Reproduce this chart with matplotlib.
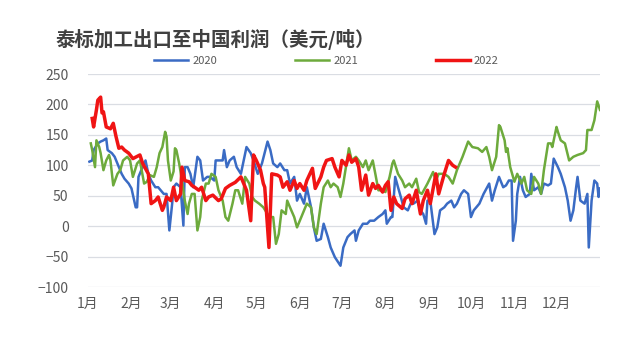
import matplotlib.pyplot as plt

plt.rcParams['font.family'] = ['Noto Sans CJK SC', 'DejaVu Sans']

# 日序（1月1日=0）与利润（美元/吨）
days_2020 = [1, 3, 4, 7, 9, 11, 13, 14, 17, 19, 22, 24, 26, 29, 31, 34, 35, 36, 38, 41,
             43, 45, 48, 50, 54, 56, 58, 60, 61, 63, 66, 68, 69, 71, 73, 75, 78, 80, 82, 85,
             87, 90, 91, 93, 96, 97, 99, 101, 104, 106, 109, 111, 113, 116, 118, 121, 124, 128, 130, 132,
             135, 137, 140, 142, 144, 147, 149, 151, 154, 156, 159, 161, 163, 166,
             168, 171, 173, 176, 180, 182, 185, 187, 190, 191, 193, 196, 199, 201, 204, 207,
             210, 212, 213, 216, 217, 219, 221, 223, 225, 228, 230, 232, 235, 237, 239, 241,
             242, 244, 247, 249, 251, 254, 256, 259, 261, 263, 266, 268, 271, 273, 275, 279,
             282, 286, 288, 290, 293, 296, 298, 300, 302, 303, 305, 306, 308, 310, 312, 315,
             316, 318, 321, 323, 325, 328, 330, 332, 335, 337, 340, 342, 344, 346, 348, 349,
             351, 354, 356, 357, 359, 361, 363, 364, 365]
vals_2020 = [106, 108, 125, 136, 139, 141, 144, 125, 120, 114, 97, 86, 78, 70, 62, 31, 31, 81, 92, 108,
             86, 75, 64, 64, 53, 53, -7, 37, 64, 70, 64, 1, 97, 97, 86, 64, 114, 108, 75, 81,
             81, 75, 108, 108, 108, 125, 97, 108, 114, 97, 86, 108, 130, 120, 108, 86, 103, 139, 125, 103,
             97, 103, 92, 92, 70, 81, 42, 53, 37, 64, 31, -2, -24, -21,
             4, -18, -35, -51, -65, -35, -18, -13, -7, -24, -7, 4, 4, 9, 9, 15, 20, 26, 4, 15,
             15, 81, 64, 48, 31, 26, 37, 37, 42, 26, 20, 4, 42, 42, -13, -2, 26, 31, 37, 42,
             31, 37, 53, 59, 53, 15, 26, 37, 53, 70, 42, 59, 81, 64, 67, 75, 75, -24, 9, 53,
             81, 59, 48, 53, 86, 59, 64, 53, 70, 67, 70, 111, 97, 86, 64, 42, 9, 26, 64, 81,
             42, 37, 53, -35, 42, 75, 70, 48, 62]

days_2021 = [2, 3, 5, 6, 8, 9, 11, 13, 15, 16, 18, 21, 23, 25, 28, 30, 32, 35, 37, 40,
             42, 44, 47, 49, 51, 53, 55, 56, 57, 59, 61, 62, 63, 65, 67, 69, 71, 72, 74, 76,
             78, 80, 81, 84, 86, 88, 91, 93, 96, 98, 100, 103, 105, 107, 110, 112, 115, 117, 119, 122,
             125, 128, 130, 132, 134, 136, 138, 141, 142, 144, 147, 149, 151, 154, 156, 159, 161, 163, 166,
             168, 171, 173, 175, 178, 180, 182, 186, 188, 191, 193, 196, 198, 200, 203, 205, 207,
             210, 212, 215, 217, 218, 221, 224, 226, 229, 231, 234, 236, 238, 242, 246, 248,
             250, 254, 257, 260, 263, 267, 271, 274, 278, 281, 284, 286, 288, 291, 293, 294,
             297, 298, 299, 301, 304, 306, 309, 311, 313, 316, 318, 321, 323, 325, 328, 330,
             331, 334, 335, 337, 340, 343, 346, 349, 353, 355, 356, 359, 361, 363, 365]
vals_2021 = [136, 125, 97, 141, 130, 120, 92, 108, 117, 108, 67, 86, 92, 108, 114, 108, 81, 103, 108, 70,
             73, 84, 81, 97, 120, 130, 155, 147, 108, 75, 90, 128, 125, 103, 75, 42, 20, 37, 53, 53,
             -7, 15, 42, 70, 70, 86, 81, 59, 42, 15, 9, 37, 59, 59, 37, 81, 70, 48, 42, 37,
             31, 20, 15, 15, -29, -13, 26, 20, 42, 31, 15, -2, 9, 26, 37, 31, -2, -13, 37,
             64, 75, 64, 70, 64, 48, 70, 128, 108, 114, 108, 97, 108, 92, 108, 84, 59,
             59, 56, 81, 103, 108, 86, 75, 64, 70, 64, 78, 56, 53, 70, 89, 75,
             86, 86, 81, 70, 92, 114, 139, 130, 128, 122, 130, 114, 92, 114, 166, 163,
             141, 122, 128, 97, 73, 86, 70, 81, 59, 53, 81, 70, 53, 92, 136, 136,
             130, 163, 155, 141, 136, 108, 114, 117, 120, 125, 158, 158, 174, 205, 191]

days_2022 = [3, 4, 6, 7, 9, 10, 11, 13, 16, 18, 19, 20, 22, 24, 26, 29, 32, 37, 39, 43,
             45, 48, 50, 53, 54, 56, 59, 61, 63, 66, 67, 69, 72, 74, 76, 79, 81, 84, 86, 89,
             93, 95, 98, 101, 105, 109, 111, 113, 116, 118, 120, 123, 125, 126, 129, 131, 135, 137, 139, 142,
             144, 147, 149, 151, 154, 156, 160, 162, 166, 168, 170, 174, 176, 179, 181, 184, 186, 188, 191, 193,
             195, 198, 200, 203, 205, 207, 210, 212, 214, 216, 218, 220, 224, 226, 229, 231, 234, 237, 239, 242,
             244, 248, 250, 254, 257, 260, 262]
vals_2022 = [177, 163, 191, 207, 212, 186, 188, 163, 160, 169, 158, 147, 128, 130, 125, 120, 111, 117, 103, 86,
             37, 42, 48, 26, 31, 48, 42, 64, 42, 53, 97, 75, 73, 67, 64, 59, 64, 42, 48, 51,
             42, 45, 62, 67, 72, 81, 70, 59, 9, 117, 108, 92, 70, 64, -35, 86, 84, 81, 64, 73,
             59, 75, 62, 70, 59, 75, 95, 62, 81, 97, 108, 111, 97, 81, 108, 100, 117, 105, 111, 97,
             59, 84, 51, 70, 62, 67, 56, 67, 73, 26, 48, 37, 29, 45, 51, 37, 59, 20, 42, 59,
             37, 86, 53, 86, 108, 100, 97]

month_starts = [0, 31, 59, 90, 120, 151, 181, 212, 243, 273, 304, 334]
month_labels = ['1月', '2月', '3月', '4月', '5月', '6月', '7月', '8月', '9月', '10月', '11月', '12月']

fig = plt.figure(figsize=(6.4, 3.45), dpi=100)
ax = fig.add_axes([0.1375, 0.168, 0.8, 0.6175])

ax.plot(days_2020, vals_2020, color='#3A6BC4', lw=1.8, label='2020')
ax.plot(days_2021, vals_2021, color='#6DAA3C', lw=1.8, label='2021')
ax.plot(days_2022, vals_2022, color='#F01414', lw=2.5, label='2022')

ax.set_xlim(0, 365)
ax.set_ylim(-100, 250)
ax.set_yticks(range(-100, 251, 50))
ax.set_xticks(month_starts)
ax.set_xticklabels(month_labels)
ax.grid(axis='y', color='#DADDE3', lw=0.9)
ax.set_axisbelow(True)
for s in ax.spines.values():
    s.set_visible(False)
ax.tick_params(length=0, labelsize=10, colors='#595959')
ax.tick_params(axis='x', pad=7)
ax.tick_params(axis='y', pad=14)

fig.text(0.086, 0.885, '泰标加工出口至中国利润（美元/吨）', fontsize=14, fontweight='bold',
         color='#404040', va='center')
fig.legend(loc='center', bbox_to_anchor=(0.51, 0.823), ncol=3, frameon=False, fontsize=8,
           handlelength=3.1, handletextpad=0.35, columnspacing=7.0, labelcolor='#595959')

fig.savefig('out.png', dpi=100)
